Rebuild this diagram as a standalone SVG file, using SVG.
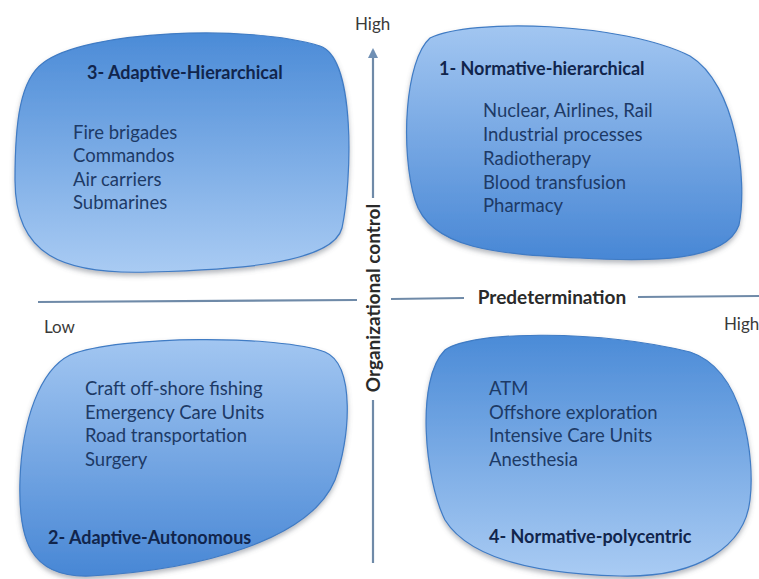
<svg xmlns="http://www.w3.org/2000/svg" width="759" height="579" viewBox="0 0 759 579">
  <defs>
    <linearGradient id="gDarkTop" x1="0" y1="0" x2="0" y2="1">
      <stop offset="0" stop-color="#4b8bd7"/>
      <stop offset="1" stop-color="#a9cbf3"/>
    </linearGradient>
    <linearGradient id="gLightTop" x1="0" y1="0" x2="0" y2="1">
      <stop offset="0" stop-color="#a2c6f1"/>
      <stop offset="1" stop-color="#4887d5"/>
    </linearGradient>
    <filter id="shadow" x="-10%" y="-10%" width="120%" height="125%">
      <feDropShadow dx="0" dy="3" stdDeviation="2.5" flood-color="#5a6470" flood-opacity="0.45"/>
    </filter>
    <marker id="arrow" viewBox="0 0 10 10" refX="8" refY="5" markerWidth="10" markerHeight="10" markerUnits="userSpaceOnUse" orient="auto">
      <path d="M0,0 L10,5 L0,10 Z" fill="#6f8fb4"/>
    </marker>
    <style>
      .blob { stroke: #3f7bc4; stroke-width: 1.2; filter: url(#shadow); }
      .item { font-family: Lato, "Open Sans", sans-serif; font-size: 18.5px; fill: #1d3a66; }
      .head { font-family: Lato, "Open Sans", sans-serif; font-size: 18px; font-weight: bold; fill: #11254c; }
      .axis { stroke: #6f8aa8; stroke-width: 2.2; fill: none; }
      .alabel { font-family: Lato, "Open Sans", sans-serif; font-size: 17px; fill: #3a3a3a; }
      .atitle { font-family: Lato, "Open Sans", sans-serif; font-weight: bold; fill: #2a2a2a; }
    </style>
  </defs>
  <rect width="759" height="579" fill="#ffffff"/>

  <!-- axes -->
  <g id="connectors">
    <line class="axis" x1="373" y1="198" x2="373" y2="50" marker-end="url(#arrow)"/>
    <line class="axis" x1="373" y1="400" x2="373" y2="563"/>
    <line class="axis" x1="38" y1="302" x2="357" y2="300"/>
    <line class="axis" x1="391" y1="299" x2="464" y2="298"/>
    <line class="axis" x1="638" y1="297" x2="759" y2="296"/>
  </g>

  <g id="axis-labels">
    <text class="alabel" x="355" y="30">High</text>
    <text class="alabel" x="44" y="333">Low</text>
    <text class="alabel" x="724" y="330">High</text>
    <text class="atitle" x="552" y="304" font-size="19px" text-anchor="middle">Predetermination</text>
    <text class="atitle" font-size="19px" transform="translate(380,298) rotate(-90)" text-anchor="middle">Organizational control</text>
  </g>

  <!-- quadrant 3: top-left -->
  <g id="adaptive-hierarchical">
    <path class="blob" fill="url(#gDarkTop)" d="M43,63 C85,30 250,24 320,46 C356,58 352,180 342,228 C332,266 220,270 150,272 C62,275 15,255 15,180 C15,122 20,80 43,63 Z"/>
    <text class="head" x="87" y="79">3- Adaptive-Hierarchical</text>
    <text class="item" x="73" y="139">Fire brigades</text>
    <text class="item" x="73" y="162">Commandos</text>
    <text class="item" x="73" y="186">Air carriers</text>
    <text class="item" x="73" y="209">Submarines</text>
  </g>

  <!-- quadrant 1: top-right -->
  <g id="normative-hierarchical">
    <path class="blob" fill="url(#gLightTop)" d="M430,38 C470,18 622,22 690,56 C736,84 748,180 739,225 C726,262 650,262 580,258 C500,254 430,250 415,200 C400,150 405,60 430,38 Z"/>
    <text class="head" x="439" y="75">1- Normative-hierarchical</text>
    <text class="item" x="483" y="117">Nuclear, Airlines, Rail</text>
    <text class="item" x="483" y="141">Industrial processes</text>
    <text class="item" x="483" y="165">Radiotherapy</text>
    <text class="item" x="483" y="189">Blood transfusion</text>
    <text class="item" x="483" y="212">Pharmacy</text>
  </g>

  <!-- quadrant 2: bottom-left -->
  <g id="adaptive-autonomous">
    <path class="blob" fill="url(#gLightTop)" d="M70,355 C120,335 280,335 325,352 C356,365 350,440 335,480 C310,540 200,570 90,576 C30,578 18,540 20,480 C22,420 40,370 70,355 Z"/>
    <text class="item" x="85" y="395">Craft off-shore fishing</text>
    <text class="item" x="85" y="419">Emergency Care Units</text>
    <text class="item" x="85" y="442">Road transportation</text>
    <text class="item" x="85" y="466">Surgery</text>
    <text class="head" x="48" y="544">2- Adaptive-Autonomous</text>
  </g>

  <!-- quadrant 4: bottom-right -->
  <g id="normative-polycentric">
    <path class="blob" fill="url(#gDarkTop)" d="M445,350 C472,330 600,330 690,352 C745,370 755,460 750,500 C745,545 700,578 620,576 C540,574 470,560 445,520 C425,480 415,380 445,350 Z"/>
    <text class="item" x="489" y="395">ATM</text>
    <text class="item" x="489" y="419">Offshore exploration</text>
    <text class="item" x="489" y="442">Intensive Care Units</text>
    <text class="item" x="489" y="466">Anesthesia</text>
    <text class="head" x="489" y="543">4- Normative-polycentric</text>
  </g>
</svg>
